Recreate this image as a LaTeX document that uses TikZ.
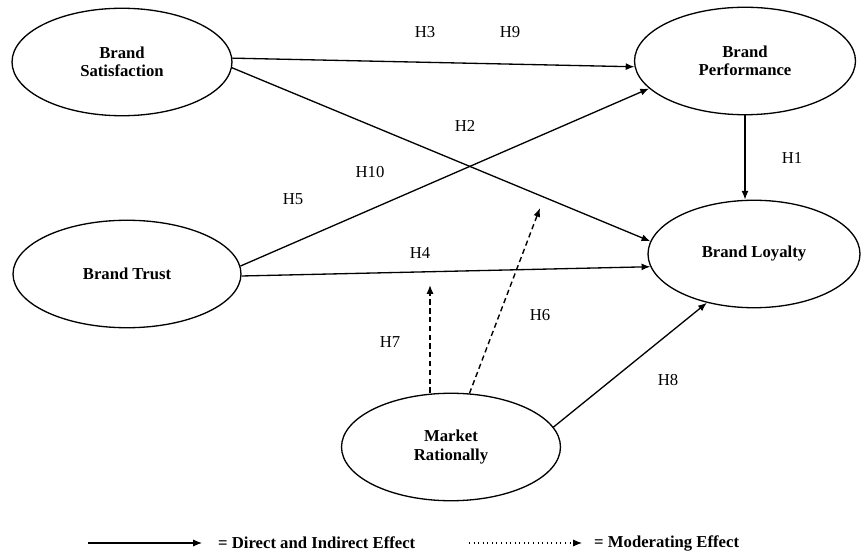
\documentclass[tikz,border=0pt]{standalone}
\usepackage{fontspec}
\setmainfont{Liberation Serif}
\usetikzlibrary{arrows.meta,positioning,calc,shapes.geometric}

\begin{document}
\begin{tikzpicture}[
      x=0.02cm,y=-0.02cm,
      ell/.style={draw,ellipse,line width=0.75pt,inner sep=0pt,
                  minimum height=2.15cm,align=center,
                  font=\fontsize{9.5}{10.5}\selectfont\bfseries},
      hyp/.style={font=\fontsize{9.5}{11}\selectfont},
      key/.style={anchor=west,font=\fontsize{9.5}{11}\selectfont\bfseries},
      ar/.style={-{Latex[length=5pt,width=4pt]},line width=0.75pt},
      mod/.style={-{Latex[length=5pt,width=4pt]},line width=0.8pt,dashed,dash pattern=on 3pt off 2pt}
    ]
    \useasboundingbox (0,0) rectangle (861,553);

    % Constructs
    \node(bs)[ell,minimum width=4.40cm] at (122,62) {Brand\\Satisfaction};
    \node(bt)[ell,minimum width=4.56cm] at (127,274) {Brand Trust};
    \node(bp)[ell,minimum width=4.42cm] at (745,61) {Brand\\Performance};
    \node(bl)[ell,minimum width=4.24cm] at (754,254) {Brand Loyalty};
    \node(mr)[ell,minimum width=4.38cm] at (451,447) {Market\\Rationally};

    % Free ends of the moderating arrows
    \coordinate(h7end) at (430,285);
    \coordinate(h6end) at (540,208);

    % Direct paths
    \draw[ar] (bs.2) -- (bp.183);
    \draw[ar] (bs.-3) -- (bl.173);
    \draw[ar] (bt.4) -- (bp.196);
    \draw[ar] (bt.-1) -- (bl.187);
    \draw[ar] (bp.south) -- (bp.south |- bl.north);
    \draw[ar] (mr.11) -- (bl.226);

    % Moderating paths
    \draw[mod] (h7end |- mr.north) -- (h7end);
    \draw[mod] (mr.71) -- (h6end);

    % Hypothesis labels
    \node(h3)[hyp] at (425,32) {H3};
    \node(h9)[hyp] at (510,32) {H9};
    \node(h2)[hyp] at (465,126) {H2};
    \node(h10)[hyp] at (370,172) {H10};
    \node(h5)[hyp] at (293,199) {H5};
    \node(h1)[hyp] at (792,158) {H1};
    \node(h4)[hyp] at (420,253) {H4};
    \node(h7)[hyp] at (390,342) {H7};
    \node(h6)[hyp] at (540,315) {H6};
    \node(h8)[hyp] at (668,380) {H8};

    % Legend
    \coordinate(keyA) at (88,543);
    \coordinate(keyB) at (202,543);
    \coordinate(keyC) at (469,543);
    \coordinate(keyD) at (582,543);
    \draw[ar,line width=0.6pt] (keyA) -- (keyB);
    \draw[-{Latex[length=5pt,width=4pt]},line width=0.6pt,dotted] (keyC) -- (keyD);
    \node(keyDirect)[key] at (212,543) {= Direct and Indirect Effect};
    \node(keyMod)[key] at (588,543) {= Moderating Effect};
  \end{tikzpicture}
\end{document}
